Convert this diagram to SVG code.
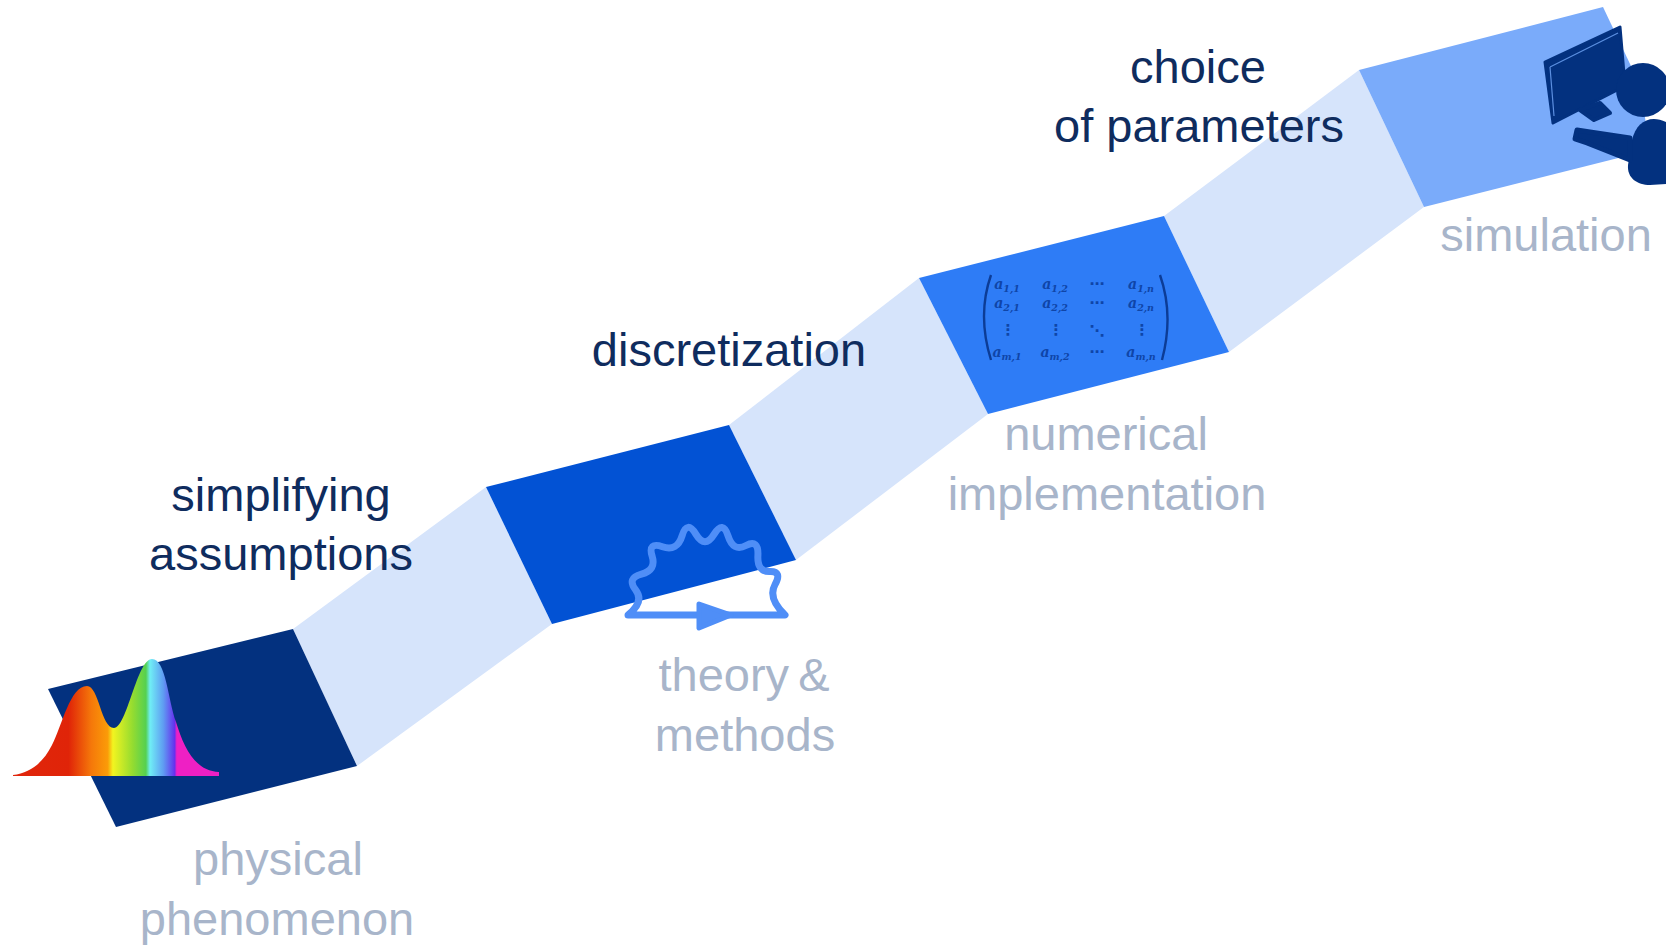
<svg xmlns="http://www.w3.org/2000/svg" width="1666" height="946" viewBox="0 0 1666 946">
<style>
text{font-family:"Liberation Sans",Arial,sans-serif;font-size:47px;text-anchor:middle}
.d{fill:#0f2c5e}
.g{fill:#a8b5ca}
.m text{font-size:14px;font-family:"DejaVu Serif","Liberation Serif",serif;font-weight:bold;font-style:italic;fill:#0f45a8}
.m tspan{font-size:9.5px}
.m .s{font-family:"DejaVu Sans",sans-serif;font-style:normal;font-size:15px}
.link{fill:#d6e4fb}
.f{fill:none;stroke:#4f8ef7;stroke-width:7;stroke-linecap:round;stroke-linejoin:round}
.ink{fill:#03317f;stroke:#03317f;stroke-linejoin:round}
</style>
<defs>
<linearGradient id="sp" gradientUnits="userSpaceOnUse" x1="13" y1="0" x2="219" y2="0">
<stop offset="0" stop-color="#e0260c"/>
<stop offset="0.27" stop-color="#e02408"/>
<stop offset="0.38" stop-color="#f5780a"/>
<stop offset="0.46" stop-color="#fb9c08"/>
<stop offset="0.485" stop-color="#f2f420"/>
<stop offset="0.58" stop-color="#95dc30"/>
<stop offset="0.645" stop-color="#55d050"/>
<stop offset="0.665" stop-color="#70eef5"/>
<stop offset="0.73" stop-color="#5f9cf2"/>
<stop offset="0.785" stop-color="#6530ee"/>
<stop offset="0.795" stop-color="#ee20c4"/>
<stop offset="1" stop-color="#ee20c4"/>
</linearGradient>
</defs>
<rect width="1666" height="946" fill="#fff"/>
<g id="connectors">
<polygon class="link" points="293,629 486,487 552,624 357,766"/>
<polygon class="link" points="729,425 919,278 988,414 796,560"/>
<polygon class="link" points="1164,216 1359,70 1424,207 1229,352"/>
</g>
<g id="physical-phenomenon">
<polygon points="48,689 293,629 357,766 116,827" fill="#03317f"/>
<path d="M13,775 C30,773 43,763 52,745 C62,726 70,686 87,686 C99,686 101,728 114,728 C127,728 137,659 152,659 C166,659 168,700 176,722 C184,748 195,771 219,772 L219,776 L13,776 Z" fill="url(#sp)"/>
<text class="g" x="278" y="875">physical</text>
<text class="g" x="277" y="935">phenomenon</text>
</g>
<g id="simplifying-assumptions">
<text class="d" x="281" y="511">simplifying</text>
<text class="d" x="281" y="570">assumptions</text>
</g>
<g id="theory-methods">
<polygon points="486,487 729,425 796,560 552,624" fill="#0252d4"/>
<path class="f" d="M628,615 Q644.7,601.7 635.6,589.9 Q626.5,578 641.5,574.1 Q656.5,570.2 652.1,556 Q647.7,541.7 662.5,546.7 Q677.2,551.7 682.1,535.7 Q687,519.7 696,534.4 Q705,549 714,534.4 Q723,519.7 728.1,536 Q733.2,552.2 746,545.5 Q758.7,538.7 757.9,555.4 Q757,572 769.8,571.6 Q782.5,571.2 775,584.6 Q767.5,598 785,615 Z"/>
<polygon points="699,604 731,615 699,628" fill="#4f8ef7" stroke="#4f8ef7" stroke-width="5" stroke-linejoin="round"/>
<text class="g" x="744" y="691" word-spacing="-4">theory &amp;</text>
<text class="g" x="745" y="751">methods</text>
</g>
<g id="discretization">
<text class="d" x="729" y="366">discretization</text>
</g>
<g id="numerical-implementation">
<polygon points="919,278 1164,216 1229,352 988,414" fill="#2e7cf6"/>
<g class="m">
<path d="M991,275 Q977,315 991,360 M1160,275 Q1174,315 1162,360" fill="none" stroke="#0c3c96" stroke-width="2.4"/>
<text x="1007" y="289">a<tspan dy="3">1,1</tspan></text>
<text x="1055" y="289">a<tspan dy="3">1,2</tspan></text>
<text x="1141" y="289">a<tspan dy="3">1,n</tspan></text>
<text x="1007" y="308">a<tspan dy="3">2,1</tspan></text>
<text x="1055" y="308">a<tspan dy="3">2,2</tspan></text>
<text x="1141" y="308">a<tspan dy="3">2,n</tspan></text>
<text x="1007" y="357">a<tspan dy="3">m,1</tspan></text>
<text x="1055" y="357">a<tspan dy="3">m,2</tspan></text>
<text x="1141" y="357">a<tspan dy="3">m,n</tspan></text>
<text class="s" x="1097" y="289">⋯</text>
<text class="s" x="1097" y="308">⋯</text>
<text class="s" x="1097" y="357">⋯</text>
<text class="s" x="1008" y="335">⋮</text>
<text class="s" x="1056" y="335">⋮</text>
<text class="s" x="1097" y="336">⋱</text>
<text class="s" x="1142" y="335">⋮</text>
</g>
<text class="g" x="1106" y="450">numerical</text>
<text class="g" x="1107" y="510">implementation</text>
</g>
<g id="choice-of-parameters">
<text class="d" x="1198" y="83">choice</text>
<text class="d" x="1199" y="142">of parameters</text>
</g>
<g id="simulation">
<polygon points="1359,70 1603,7 1640,85 1650,150 1424,207" fill="#7aabfa"/>
<polygon class="ink" points="1545,62 1620,27 1625,86 1553,123" stroke-width="3"/>
<path d="M1550,67 L1554,116 M1550,67 L1618,33" stroke="#5c8fe0" stroke-width="1.2" fill="none"/>
<polygon class="ink" points="1580,110 1600,103 1610,113 1594,120" stroke-width="4"/>
<circle cx="1643" cy="90" r="27" fill="#03317f"/>
<path d="M1666,122 C1650,114 1636,122 1632,140 L1628,165 C1627,178 1637,185 1650,185 L1666,184 Z" fill="#03317f"/>
<path class="ink" d="M1577,130 L1590,132 L1630,138 L1630,160 L1587,143 L1575,139 Z" stroke-width="5"/>
<text class="g" x="1546" y="251">simulation</text>
</g>
</svg>
